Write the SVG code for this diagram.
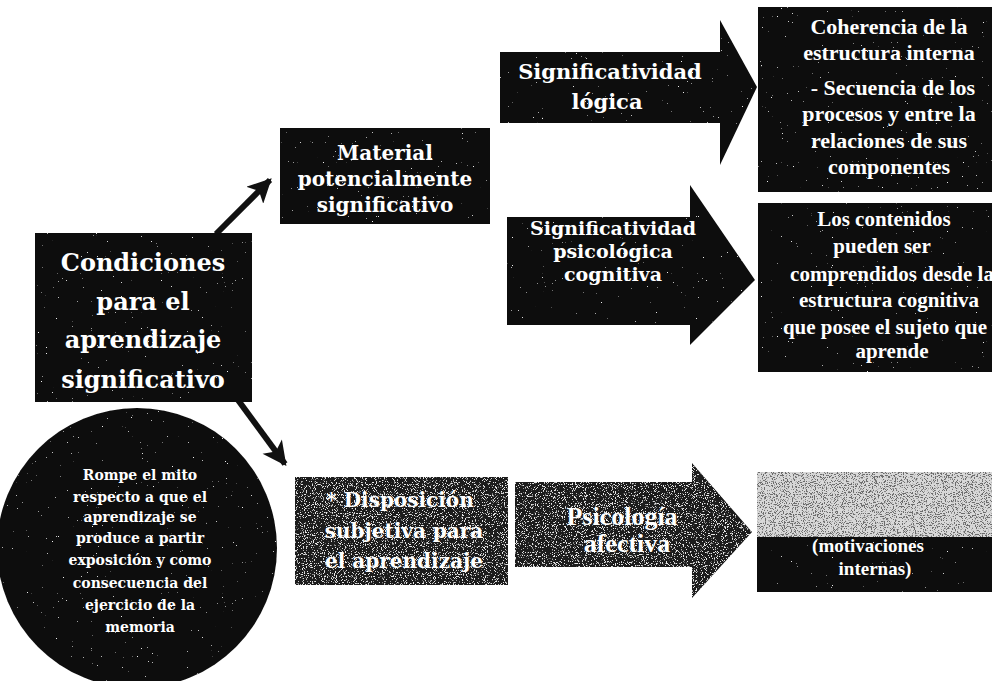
<svg xmlns="http://www.w3.org/2000/svg" width="992" height="681" viewBox="0 0 992 681">
<style>
.dark{fill:#111}
.t{fill:#fff;font-weight:bold;text-anchor:middle}
.tr{font-family:"Liberation Serif","Times New Roman",serif}
.dj{font-family:"DejaVu Serif","Liberation Serif",serif}
.conn{stroke:#111;stroke-width:6;fill:none}
</style>
<defs>
<filter id="speckLight" x="0" y="0" width="1" height="1">
<feTurbulence type="fractalNoise" baseFrequency="0.8" numOctaves="2" seed="4" result="n"/>
<feColorMatrix in="n" type="matrix" values="0 0 0 0 0.85  0 0 0 0 0.85  0 0 0 0 0.85  14 0 0 0 -11" result="w"/>
<feComposite in="w" in2="SourceAlpha" operator="in" result="ws"/>
<feMerge><feMergeNode in="SourceGraphic"/><feMergeNode in="ws"/></feMerge>
</filter>
<filter id="speckHeavy" x="0" y="0" width="1" height="1">
<feTurbulence type="fractalNoise" baseFrequency="0.9" numOctaves="2" seed="7" result="n"/>
<feColorMatrix in="n" type="matrix" values="0 0 0 0 0.8  0 0 0 0 0.8  0 0 0 0 0.8  12 0 0 0 -7" result="w"/>
<feComposite in="w" in2="SourceAlpha" operator="in" result="ws"/>
<feMerge><feMergeNode in="SourceGraphic"/><feMergeNode in="ws"/></feMerge>
</filter>
<filter id="speckTop" x="0" y="0" width="1" height="1">
<feTurbulence type="fractalNoise" baseFrequency="0.9" numOctaves="2" seed="11" result="n"/>
<feColorMatrix in="n" type="matrix" values="0 0 0 0 0.15  0 0 0 0 0.15  0 0 0 0 0.15  12 0 0 0 -6.4" result="w"/>
<feComposite in="w" in2="SourceAlpha" operator="in" result="ws"/>
<feMerge><feMergeNode in="SourceGraphic"/><feMergeNode in="ws"/></feMerge>
</filter>
<marker id="ah" viewBox="0 0 10 10" refX="9" refY="5" markerWidth="26" markerHeight="24" markerUnits="userSpaceOnUse" orient="auto">
<path d="M0,0 L10,5 L0,10 L2.5,5 Z" fill="#111"/>
</marker>
</defs>
<rect width="992" height="681" fill="#fff"/>

<g id="connectors">
<line class="conn" x1="216" y1="234" x2="270" y2="180" marker-end="url(#ah)"/>
<line class="conn" x1="238" y1="400" x2="285" y2="464" marker-end="url(#ah)"/>
</g>

<g id="condiciones">
<rect class="dark" x="35" y="233" width="217" height="169" filter="url(#speckLight)"/>
<text class="t dj" font-size="24" x="143" y="271">Condiciones</text>
<text class="t dj" font-size="24" x="143" y="310">para el</text>
<text class="t dj" font-size="24" x="143" y="348">aprendizaje</text>
<text class="t dj" font-size="24" x="143" y="388">significativo</text>
</g>

<g id="material">
<rect class="dark" x="280" y="128" width="210" height="96" filter="url(#speckLight)"/>
<text class="t dj" font-size="20" x="385" y="160">Material</text>
<text class="t dj" font-size="20" x="385" y="186">potencialmente</text>
<text class="t dj" font-size="20" x="385" y="212">significativo</text>
</g>

<g id="sig-logica">
<polygon class="dark" points="500,52 720,52 720,20 757,87 720,165 720,123 500,123" filter="url(#speckLight)"/>
<text class="t dj" font-size="21" x="610" y="79">Significatividad</text>
<text class="t dj" font-size="21" x="607" y="109">lógica</text>
</g>

<g id="sig-psicologica">
<polygon class="dark" points="507,217 690,217 690,185 755,280 690,345 690,325 507,325" filter="url(#speckLight)"/>
<text class="t dj" font-size="19" x="613" y="235">Significatividad</text>
<text class="t dj" font-size="19" x="613" y="258">psicológica</text>
<text class="t dj" font-size="19" x="613" y="281">cognitiva</text>
</g>

<g id="coherencia">
<rect class="dark" x="758" y="7" width="234" height="185" filter="url(#speckLight)"/>
<text class="t tr" font-size="22" x="889" y="34">Coherencia de la</text>
<text class="t tr" font-size="22" x="889" y="60">estructura interna</text>
<text class="t tr" font-size="22" x="893" y="95">- Secuencia de los</text>
<text class="t tr" font-size="22" x="889" y="121">procesos y entre la</text>
<text class="t tr" font-size="22" x="889" y="148">relaciones de sus</text>
<text class="t tr" font-size="22" x="889" y="174">componentes</text>
</g>

<g id="contenidos">
<rect class="dark" x="758" y="203" width="234" height="169" filter="url(#speckLight)"/>
<text class="t tr" font-size="21" x="884" y="226">Los contenidos</text>
<text class="t tr" font-size="21" x="882" y="253">pueden ser</text>
<text class="t tr" font-size="21" x="892" y="281">comprendidos desde la</text>
<text class="t tr" font-size="21" x="889" y="307">estructura cognitiva</text>
<text class="t tr" font-size="21" x="885" y="334">que posee el sujeto que</text>
<text class="t tr" font-size="21" x="892" y="358">aprende</text>
</g>

<g id="mito">
<circle class="dark" cx="137" cy="548" r="140" filter="url(#speckLight)"/>
<text class="t dj" font-size="14" x="140" y="480">Rompe el mito</text>
<text class="t dj" font-size="14" x="140" y="502">respecto a que el</text>
<text class="t dj" font-size="14" x="140" y="522">aprendizaje se</text>
<text class="t dj" font-size="14" x="140" y="543">produce a partir</text>
<text class="t dj" font-size="14" x="140" y="565">exposición y como</text>
<text class="t dj" font-size="14" x="140" y="588">consecuencia del</text>
<text class="t dj" font-size="14" x="140" y="610">ejercicio de la</text>
<text class="t dj" font-size="14" x="140" y="632">memoria</text>
</g>

<g id="disposicion">
<rect x="295" y="477" width="213" height="108" fill="#1a1a1a" filter="url(#speckHeavy)"/>
<text class="t dj" font-size="20" x="400" y="507">* Disposición</text>
<text class="t dj" font-size="20" x="404" y="538">subjetiva para</text>
<text class="t dj" font-size="20" x="404" y="568">el aprendizaje</text>
</g>

<g id="psic-afectiva">
<polygon points="515,482 692,482 692,463 752,532 692,598 692,567 515,567" fill="#1a1a1a" filter="url(#speckHeavy)"/>
<text class="t tr" font-size="26" x="622" y="525">Psicología</text>
<text class="t tr" font-size="26" x="627" y="552">afectiva</text>
</g>

<g id="motivaciones">
<rect x="757" y="537" width="235" height="55" fill="#111" filter="url(#speckLight)"/>
<rect x="757" y="472" width="235" height="65" fill="#d8d8d8" filter="url(#speckTop)"/>
<text class="t tr" font-size="19" x="868" y="552">(motivaciones</text>
<text class="t tr" font-size="19" x="875" y="575">internas)</text>
</g>
</svg>
